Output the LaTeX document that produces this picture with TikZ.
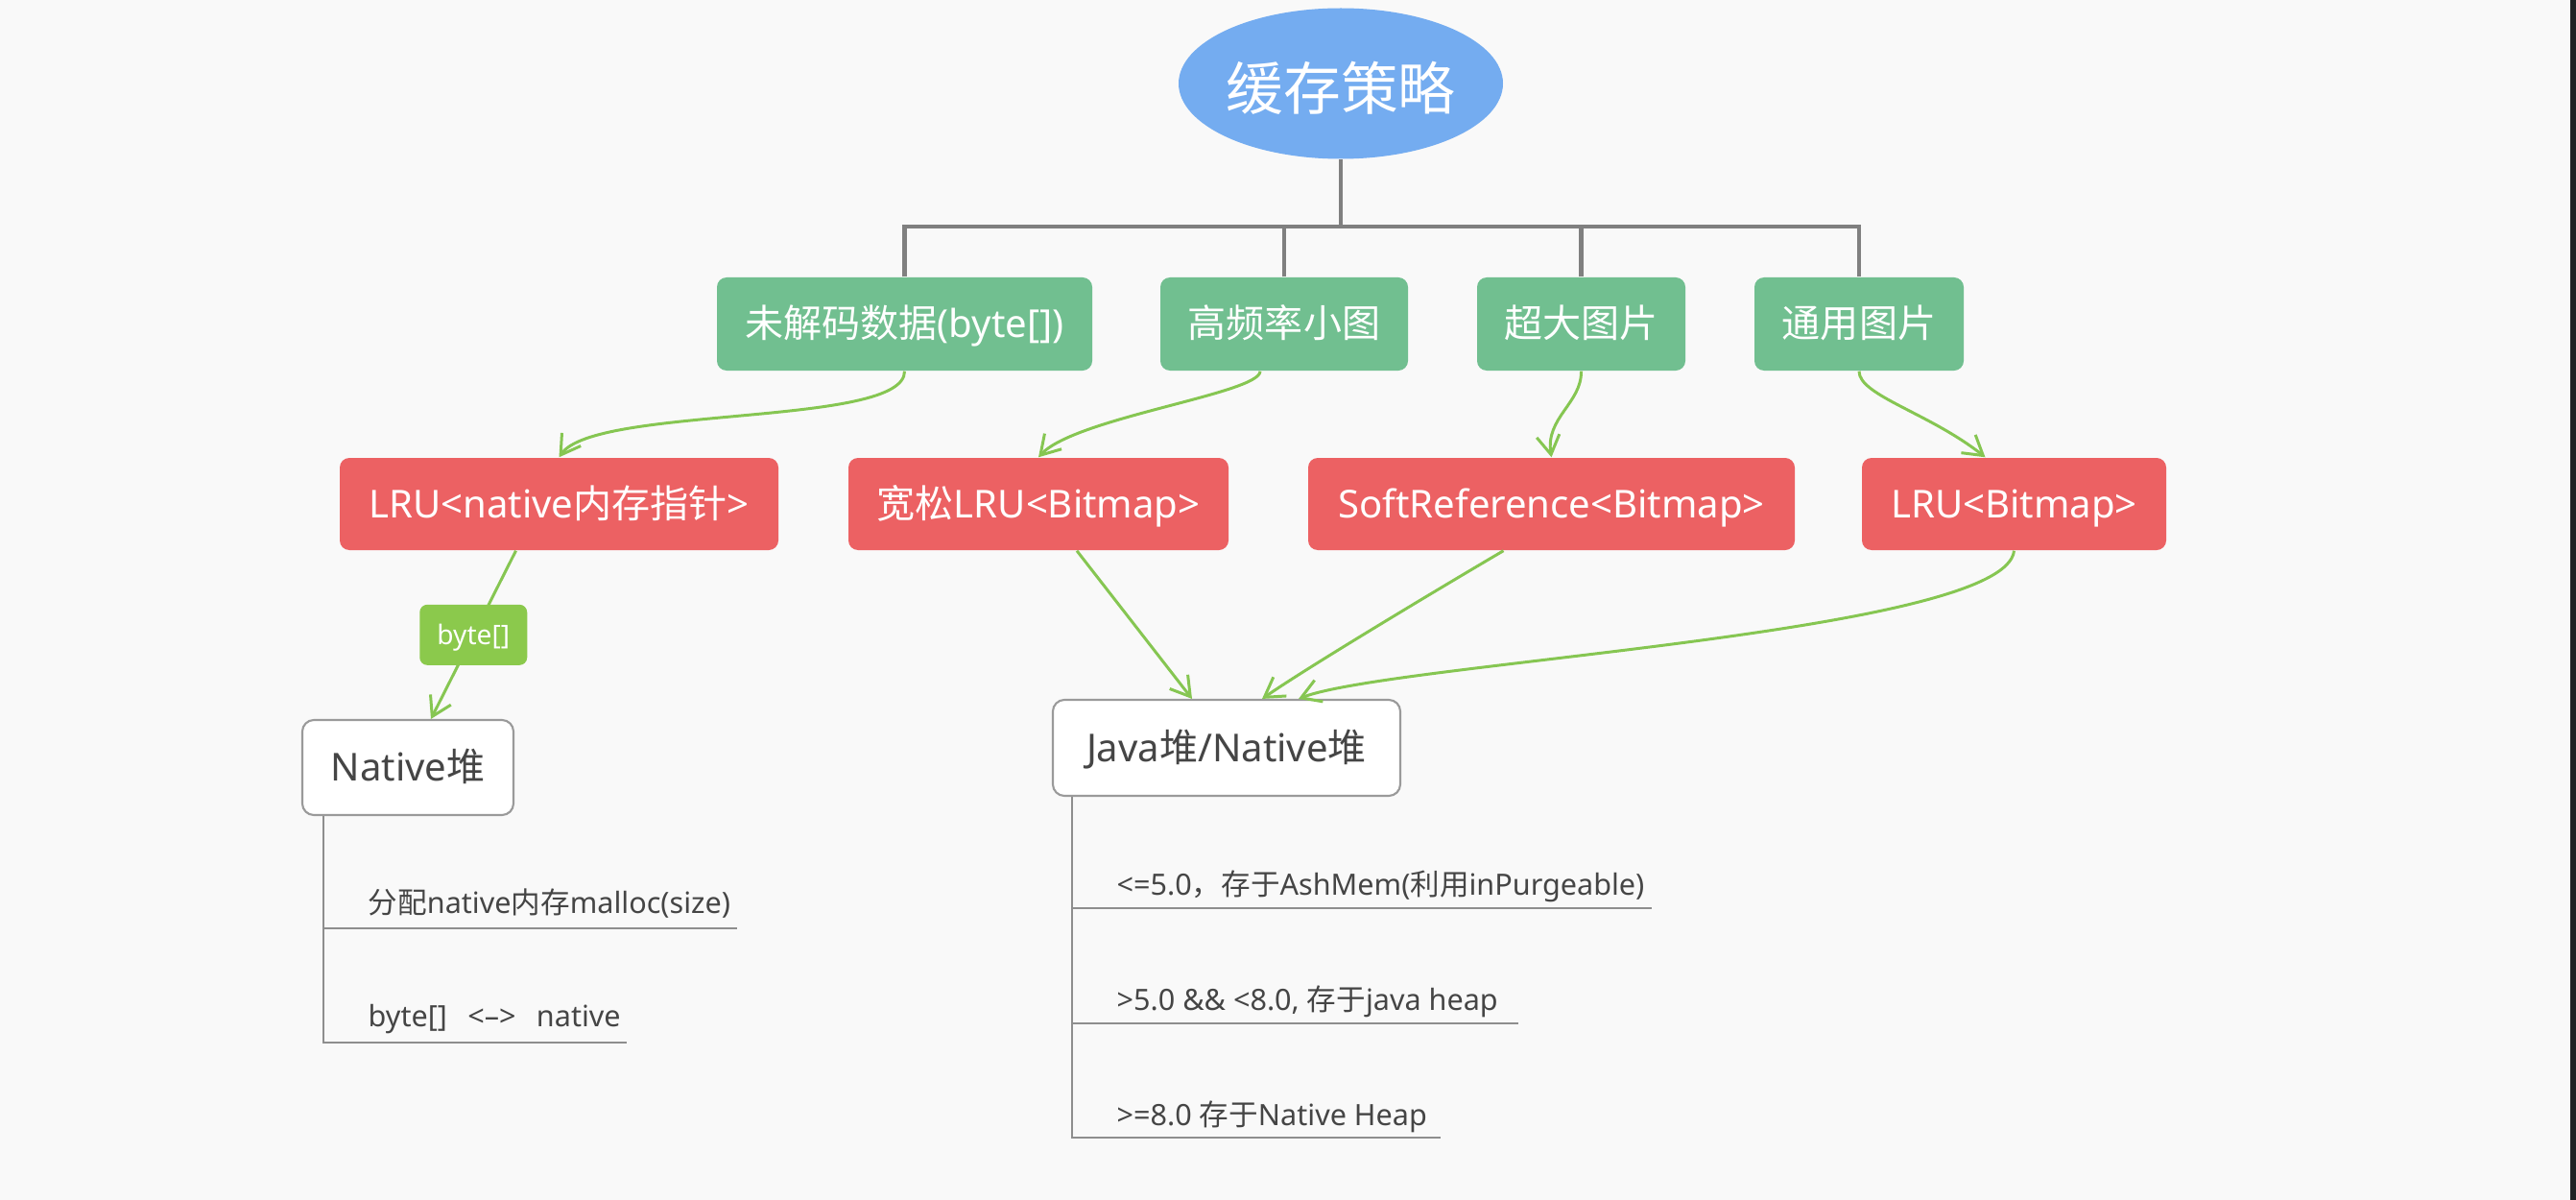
\documentclass[tikz,border=0pt]{standalone}
\usepackage{fontspec}
\setmainfont{Noto Sans}
\newfontfamily\zh{Noto Sans CJK SC}
\usetikzlibrary{arrows.meta,shapes.geometric}

\definecolor{bggray}{HTML}{F9F9F9}
\definecolor{rootblue}{HTML}{74ACF0}
\definecolor{kindgreen}{HTML}{71BF90}
\definecolor{cachered}{HTML}{EC6163}
\definecolor{taggreen}{HTML}{8BC94C}
\definecolor{linkgreen}{HTML}{86C652}
\definecolor{treegray}{HTML}{808080}
\definecolor{heapgray}{HTML}{9A9A9A}
\definecolor{undergray}{HTML}{8E8E8E}
\definecolor{textgray}{HTML}{454545}
\definecolor{stripdark}{HTML}{202124}

\begin{document}
\begin{tikzpicture}[
    rootnode/.style={ellipse, fill=rootblue, text=white, inner sep=0pt,
                     minimum width=3.19cm, minimum height=1.57cm,
                     text height=15.6pt, text depth=0pt,
                     font=\zh\fontsize{17}{20}\selectfont},
    kindbox/.style={rounded corners=0.1cm, fill=kindgreen, text=white,
                    inner sep=0pt, minimum height=0.97cm,
                    text height=9.1pt, text depth=1pt,
                    font=\fontsize{11.4}{14}\selectfont},
    cachebox/.style={kindbox, fill=cachered, minimum height=0.96cm},
    heapbox/.style={draw=heapgray, line width=0.6pt, fill=white,
                    rounded corners=0.12cm, text=textgray, inner sep=0pt,
                    minimum height=1cm, text height=9.1pt, text depth=1pt,
                    font=\fontsize{11.4}{14}\selectfont},
    tagbox/.style={rounded corners=0.08cm, fill=taggreen, text=white,
                   inner sep=0pt, minimum width=1.12cm, minimum height=0.63cm,
                   text height=6.4pt, text depth=0.7pt,
                   font=\fontsize{8}{10}\selectfont},
    itemtext/.style={anchor=west, inner sep=0pt, text=textgray,
                     text height=6.9pt, text depth=0.8pt,
                     font=\fontsize{8.7}{10}\selectfont},
    treeline/.style={draw=treegray, line width=1.15pt},
    linkarrow/.style={draw=linkgreen, line width=0.85pt,
                      -{Straight Barb[length=5.6pt, width=6.8pt]}},
    underline/.style={draw=undergray, line width=0.6pt}]

	\fill[bggray] (0,0) rectangle (26.84,-12.5);
	\fill[stripdark] (26.78,0) rectangle (26.84,-12.5);
	\useasboundingbox (0,0) rectangle (26.84,-12.5);

	\node[rootnode] (root) at (13.97,-0.87) {缓存策略};

	\node[kindbox, minimum width=3.91cm] (g1) at (9.425,-3.375) {{\zh 未解码数据}(byte[])};
	\node[kindbox, minimum width=2.58cm] (g2) at (13.38,-3.375) {{\zh 高频率小图}};
	\node[kindbox, minimum width=2.17cm] (g3) at (16.475,-3.375) {{\zh 超大图片}};
	\node[kindbox, minimum width=2.18cm] (g4) at (19.37,-3.375) {{\zh 通用图片}};

	\node[cachebox, minimum width=4.57cm] (r1) at (5.825,-5.25) {LRU<native{\zh 内存指针}>};
	\node[cachebox, minimum width=3.96cm] (r2) at (10.82,-5.25) {{\zh 宽松}LRU<Bitmap>};
	\node[cachebox, minimum width=5.07cm] (r3) at (16.165,-5.25) {SoftReference<Bitmap>};
	\node[cachebox, minimum width=3.17cm] (r4) at (20.985,-5.25) {LRU<Bitmap>};

	\node[heapbox, minimum width=2.20cm, minimum height=0.99cm] (nat) at (4.25,-7.995) {Native{\zh 堆}};
	\node[heapbox, minimum width=3.62cm] (java) at (12.78,-7.79) {Java{\zh 堆}/Native{\zh 堆}};

	\node[itemtext] (s1) at (3.83,-9.41) {{\zh 分配}native{\zh 内存}malloc(size)};
	\node[itemtext] (s2) at (3.83,-10.59) {byte[]\hspace{0.7em}<–>\hspace{0.7em}native};
	\node[itemtext] (j1) at (11.63,-9.22) {<=5.0{\zh ，存于}AshMem({\zh 利用}inPurgeable)};
	\node[itemtext] (j2) at (11.63,-10.42) {>5.0 \&\& <8.0, {\zh 存于}java heap};
	\node[itemtext] (j3) at (11.63,-11.62) {>=8.0 {\zh 存于}Native Heap};

	% tree from the root
	\coordinate (fork) at (13.97,-2.36);
	\draw[treeline] (root.south) -- (fork);
	\draw[treeline] (g1.north) |- (fork) -| (g4.north);
	\draw[treeline] (g2.north) -- (g2.north |- fork);
	\draw[treeline] (g3.north) -- (g3.north |- fork);

	% kinds to caches
	\draw[linkarrow] (g1.south) .. controls (9.43,-4.45) and (6.2,-4.22) .. (r1.north);
	\draw[linkarrow] ([xshift=-0.25cm]g2.south) .. controls (13.13,-4.10) and (11.2,-4.35) .. (r2.north);
	\draw[linkarrow] (g3.south) .. controls (16.48,-4.20) and (16.10,-4.35) .. (r3.north);
	\draw[linkarrow] (g4.south) .. controls (19.37,-4.12) and (20.10,-4.30) .. ([xshift=-0.30cm]r4.north);

	% caches to heaps
	\draw[linkarrow] ([xshift=-0.45cm]r1.south) -- node[tagbox] (tag) {byte[]} ([xshift=0.24cm]nat.north);
	\draw[linkarrow] ([xshift=0.40cm]r2.south) -- ([xshift=-0.36cm]java.north);
	\draw[linkarrow] ([xshift=-0.50cm]r3.south) .. controls (15.30,-5.95) and (13.70,-6.90) .. ([xshift=0.37cm]java.north);
	\draw[linkarrow] (r4.south) .. controls (20.90,-6.60) and (14.50,-6.90) .. ([xshift=0.75cm]java.north);

	% heap details
	\draw[underline] ([xshift=0.23cm]nat.south west) |- (6.53,-10.86);
	\draw[underline] (3.38,-9.67) -- (7.68,-9.67);
	\draw[underline] ([xshift=0.21cm]java.south west) |- (15.01,-11.85);
	\draw[underline] (11.18,-9.46) -- (17.21,-9.46);
	\draw[underline] (11.18,-10.66) -- (15.82,-10.66);

\end{tikzpicture}
\end{document}
